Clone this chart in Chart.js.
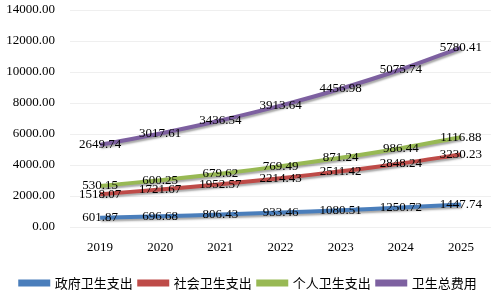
<!DOCTYPE html>
<html lang="zh">
<head>
<meta charset="UTF-8">
<title>卫生费用</title>
<script src="https://cdn.jsdelivr.net/npm/chart.js"></script>
<style>
  html, body { margin: 0; padding: 0; background: #fff; }
  #wrap { width: 491px; height: 296px; }
</style>
</head>
<body>
<div id="wrap"><canvas id="chart" width="491" height="296"></canvas></div>
<script>
const years = ['2019', '2020', '2021', '2022', '2023', '2024', '2025'];
const govSpend = [601.87, 696.68, 806.43, 933.46, 1080.51, 1250.72, 1447.74];
const socialSpend = [1518.07, 1721.67, 1952.57, 2214.43, 2511.42, 2848.24, 3230.23];
const personalSpend = [530.15, 600.25, 679.62, 769.49, 871.24, 986.44, 1116.88];
const totalSpend = [2649.74, 3017.61, 3436.54, 3913.64, 4456.98, 5075.74, 5780.41];

const serif = '"Liberation Serif", "Times New Roman", serif';
const cjk = '"Noto Sans CJK SC", sans-serif';

// shadow under the lines + value labels on each point
const labelPlugin = {
  id: 'labels',
  beforeDatasetsDraw(chart) {
    const ctx = chart.ctx;
    ctx.save();
    ctx.shadowColor = 'rgba(0,0,0,0.35)';
    ctx.shadowBlur = 2;
    ctx.shadowOffsetX = 1;
    ctx.shadowOffsetY = 2;
  },
  afterDatasetsDraw(chart) {
    const ctx = chart.ctx;
    ctx.restore();
    ctx.save();
    ctx.font = '13px ' + serif;
    ctx.fillStyle = '#000';
    ctx.textAlign = 'center';
    ctx.textBaseline = 'middle';
    chart.data.datasets.forEach((ds, i) => {
      const meta = chart.getDatasetMeta(i);
      meta.data.forEach((pt, j) => {
        ctx.fillText(ds.data[j].toFixed(2), pt.x, pt.y);
      });
    });
    ctx.restore();
  }
};

function series(label, data, color) {
  return {
    label: label,
    data: data,
    borderColor: color,
    backgroundColor: color,
    borderWidth: 4,
    pointRadius: 0,
    tension: 0.35,
    fill: false
  };
}

new Chart(document.getElementById('chart'), {
  type: 'line',
  data: {
    labels: years,
    datasets: [
      series('政府卫生支出', govSpend, '#4a7ebb'),
      series('社会卫生支出', socialSpend, '#be4b48'),
      series('个人卫生支出', personalSpend, '#98b954'),
      series('卫生总费用', totalSpend, '#7d60a0')
    ]
  },
  options: {
    responsive: false,
    animation: false,
    layout: { padding: { top: 10, left: 6, right: 0, bottom: 0 } },
    plugins: {
      legend: {
        position: 'bottom',
        maxHeight: 26,
        labels: {
          boxWidth: 28,
          boxHeight: 3,
          padding: 6.5,
          color: '#000',
          font: { family: cjk, size: 13 }
        }
      },
      tooltip: { enabled: false }
    },
    scales: {
      x: {
        offset: true,
        grid: { display: false },
        border: { display: false },
        ticks: { color: '#000', font: { family: serif, size: 13 }, padding: 5 },
        afterFit(scale) { scale.height = 43; }
      },
      y: {
        stacked: true,
        min: 0,
        max: 14000,
        grid: { color: '#efefef', lineWidth: 1, drawTicks: true, tickLength: 15, tickColor: 'rgba(0,0,0,0)' },
        border: { display: false },
        ticks: {
          stepSize: 2000,
          color: '#000',
          padding: 0,
          font: { family: serif, size: 13 },
          callback: v => v.toFixed(2)
        },
        afterFit(scale) { scale.width = 64; }
      }
    }
  },
  plugins: [labelPlugin]
});
</script>
</body>
</html>
